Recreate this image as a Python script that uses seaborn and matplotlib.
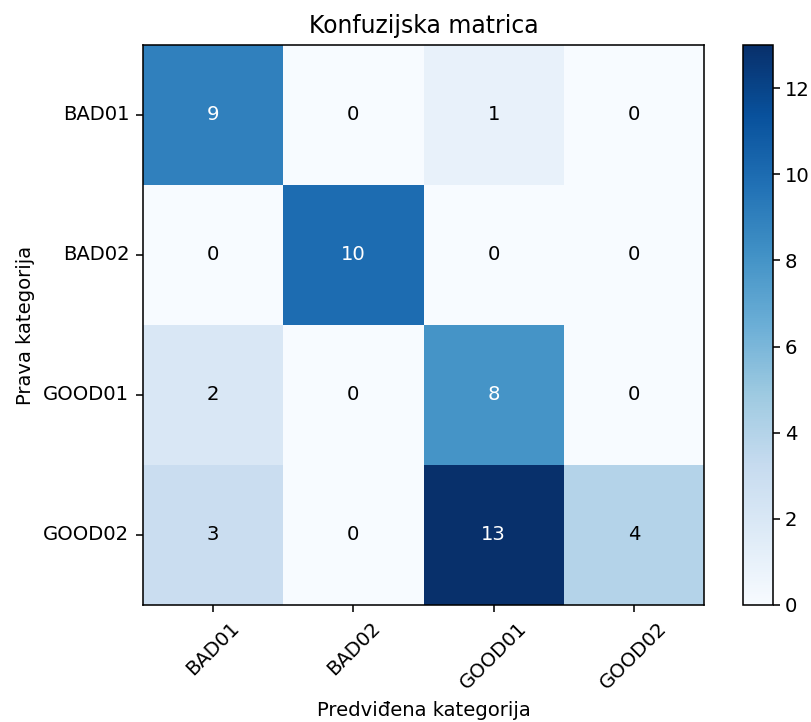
import numpy as np
import pandas as pd
import matplotlib
matplotlib.use("Agg")
import matplotlib.pyplot as plt
import seaborn as sns

# Data
categories = ["BAD01", "BAD02", "GOOD01", "GOOD02"]
row_bad01 = [9, 0, 1, 0]
row_bad02 = [0, 10, 0, 0]
row_good01 = [2, 0, 8, 0]
row_good02 = [3, 0, 13, 4]

cm = pd.DataFrame([row_bad01, row_bad02, row_good01, row_good02],
                  index=categories, columns=categories)

DPI = 141
fig = plt.figure(figsize=(811 / DPI, 722 / DPI), dpi=DPI)
ax = fig.add_axes([143 / 811, 1 - 605 / 722, 561 / 811, 560 / 722])
cax = fig.add_axes([743 / 811, 1 - 605 / 722, 30 / 811, 560 / 722])

g = sns.heatmap(cm, cmap="Blues", vmin=0, vmax=cm.values.max(),
                annot=False, cbar=True, cbar_ax=cax, ax=ax)

# Text colour like the classic confusion-matrix recipe
thresh = cm.values.max() / 2.0
for i in range(cm.shape[0]):
    for j in range(cm.shape[1]):
        v = cm.values[i, j]
        ax.text(j + 0.5, i + 0.5, str(v), ha="center", va="center",
                color="white" if v > thresh else "black", fontsize=10)

# Frame and ticks
for s in ax.spines.values():
    s.set_visible(True)
    s.set_color("black")
    s.set_linewidth(0.8)
ax.tick_params(length=3.5, width=0.8, color="black", labelsize=10)
ax.set_xticklabels(categories, rotation=45, ha="center")
ax.set_yticklabels(categories, rotation=0)
ax.set_title("Konfuzijska matrica", fontsize=12)
ax.set_xlabel("Predviđena kategorija", fontsize=10)
ax.set_ylabel("Prava kategorija", fontsize=10)

cb = g.collections[0].colorbar
cb.outline.set_linewidth(0.8)
cb.outline.set_edgecolor("black")
cb.set_ticks([0, 2, 4, 6, 8, 10, 12])
cax.tick_params(length=3.5, width=0.8, labelsize=10, pad=2.5)

fig.savefig("out.png", dpi=DPI)
